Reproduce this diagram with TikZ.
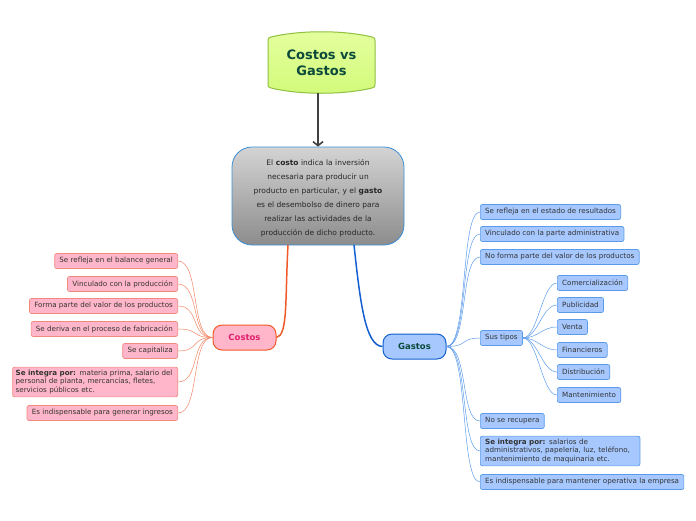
\documentclass[tikz,border=0pt]{standalone}
\usepackage{fontspec}
\setmainfont{DejaVu Sans}
\usetikzlibrary{arrows.meta}
\definecolor{pinkfill}{HTML}{FFB6CA}
\definecolor{pinkline}{HTML}{F08A80}
\definecolor{costline}{HTML}{F05A28}
\definecolor{costtext}{HTML}{E0206E}
\definecolor{bluefill}{HTML}{A6C8FF}
\definecolor{blueline}{HTML}{5B9BEA}
\definecolor{gastline}{HTML}{1560D0}
\definecolor{darkteal}{HTML}{0B4A3A}
\definecolor{leaftext}{HTML}{333333}
\definecolor{greenfill}{HTML}{D2FA7A}
\definecolor{greentop}{HTML}{E4FF9E}
\definecolor{greenline}{HTML}{8FC040}
\definecolor{cenline}{HTML}{3A90D8}
\tikzset{
  leafbase/.style={draw, rounded corners=2pt, line width=0.7pt, minimum height=15pt, inner xsep=4.8pt, inner ysep=2pt, text=leaftext, font=\fontsize{7.15}{8.4}\selectfont},
  cleaf/.style={leafbase, fill=pinkfill, draw=pinkline, anchor=east},
  gleaf/.style={leafbase, fill=bluefill, draw=blueline, anchor=west},
  cedge/.style={draw=pinkline!80!orange, line width=0.5pt},
  gedge/.style={draw=blueline, line width=0.5pt},
  mainnode/.style={draw, rounded corners=9pt, line width=1pt, minimum width=63pt, minimum height=25pt, font=\fontsize{8.5}{10}\bfseries},
}
\begin{document}
\begin{tikzpicture}[x=1pt,y=1pt]
\useasboundingbox (0,0) rectangle (696,-520);
% title
\path[top color=greentop, bottom color=greenfill, draw=greenline, line width=1pt]
  (268,-41) -- (268,-84) .. controls (268,-87) .. (271,-88) .. controls (300,-95) and (343,-95) .. (372,-88) .. controls (375,-87) .. (375,-84) -- (375,-41) .. controls (375,-38) .. (372,-37) .. controls (343,-30) and (300,-30) .. (271,-37) .. controls (268,-38) .. cycle;
\node[align=center, text=darkteal, font=\fontsize{13}{15.5}\bfseries] (title) at (321.5,-63) {Costos vs\\ Gastos};
\coordinate (titlebot) at (318,-93);
% central
\node[draw=cenline, line width=0.8pt, rounded corners=20pt, top color=black!17, bottom color=black!45, minimum width=172pt, minimum height=98pt] (central) at (318,-196) {};
\node[text width=165pt, align=center, text=black!85, font=\fontsize{7.5}{14}\selectfont] (centraltext) at (318,-198)
{El \textbf{costo} indica la inversión\\ necesaria para producir un\\ producto en particular, y el \textbf{gasto}\\ es el desembolso de dinero para\\ realizar las actividades de la\\ producción de dicho producto.};
\draw[line width=2.2pt, draw=black!75, -{Straight Barb[length=4pt,width=10pt,line width=1.6pt]}] (titlebot) -- (central.north -| titlebot);
% main nodes
\node[mainnode, fill=pinkfill, draw=costline, text=costtext] (costos) at (244.5,-337.5) {Costos};
\node[mainnode, fill=bluefill, draw=gastline, text=darkteal] (gastos) at (414.5,-346.5) {Gastos};
\coordinate (cenL) at (288,-245);
\coordinate (cenR) at (354,-245);
\draw[costline, line width=1.5pt] (cenL) .. controls (285,-300) and (288,-335) .. (costos.east);
\draw[gastline, line width=1.5pt] (cenR) .. controls (360,-300) and (365,-346) .. (gastos.west);
% costos leaves
\node[cleaf] (c1) at (178,-261) {Se refleja en el balance general};
\node[cleaf] (c2) at (178,-284) {Vinculado con la producción};
\node[cleaf] (c3) at (178,-306) {Forma parte del valor de los productos};
\node[cleaf] (c4) at (178,-329) {Se deriva en el proceso de fabricación};
\node[cleaf] (c5) at (178,-351) {Se capitaliza};
\node[cleaf, text width=159pt, inner xsep=3pt, align=left, inner ysep=3pt] (c6) at (178,-382) {\textbf{Se integra por:} materia prima, salario del\\ personal de planta, mercancías, fletes,\\ servicios públicos etc.};
\node[cleaf] (c7) at (178,-413) {Es indispensable para generar ingresos};
\foreach \n in {c1,c2,c3,c4,c5,c6,c7}
  \draw[cedge] (costos.west) .. controls +(-22,0) and +(22,0) .. (\n.east);
% gastos leaves
\node[gleaf] (g1) at (480,-212) {Se refleja en el estado de resultados};
\node[gleaf] (g2) at (480,-234) {Vinculado con la parte administrativa};
\node[gleaf] (g3) at (480,-257) {No forma parte del valor de los productos};
\node[gleaf] (g4) at (480,-338) {Sus tipos};
\node[gleaf] (g5) at (480,-421) {No se recupera};
\node[gleaf, text width=150pt, align=left, inner ysep=3pt] (g6) at (480,-451) {\textbf{Se integra por:} salarios de\\ administrativos, papelería, luz, teléfono,\\ mantenimiento de maquinaria etc.};
\node[gleaf] (g7) at (480,-482) {Es indispensable para mantener operativa la empresa};
\foreach \n in {g1,g2,g3,g4,g5,g6,g7}
  \draw[gedge] (gastos.east) .. controls +(22,0) and +(-20,0) .. (\n.west);
% sub types
\node[gleaf] (t1) at (557,-283) {Comercialización};
\node[gleaf] (t2) at (557,-305) {Publicidad};
\node[gleaf] (t3) at (557,-327) {Venta};
\node[gleaf] (t4) at (557,-350) {Financieros};
\node[gleaf] (t5) at (557,-372) {Distribución};
\node[gleaf] (t6) at (557,-395) {Mantenimiento};
\foreach \n in {t1,t2,t3,t4,t5,t6}
  \draw[gedge] (g4.east) .. controls +(15,0) and +(-15,0) .. (\n.west);
\end{tikzpicture}
\end{document}
